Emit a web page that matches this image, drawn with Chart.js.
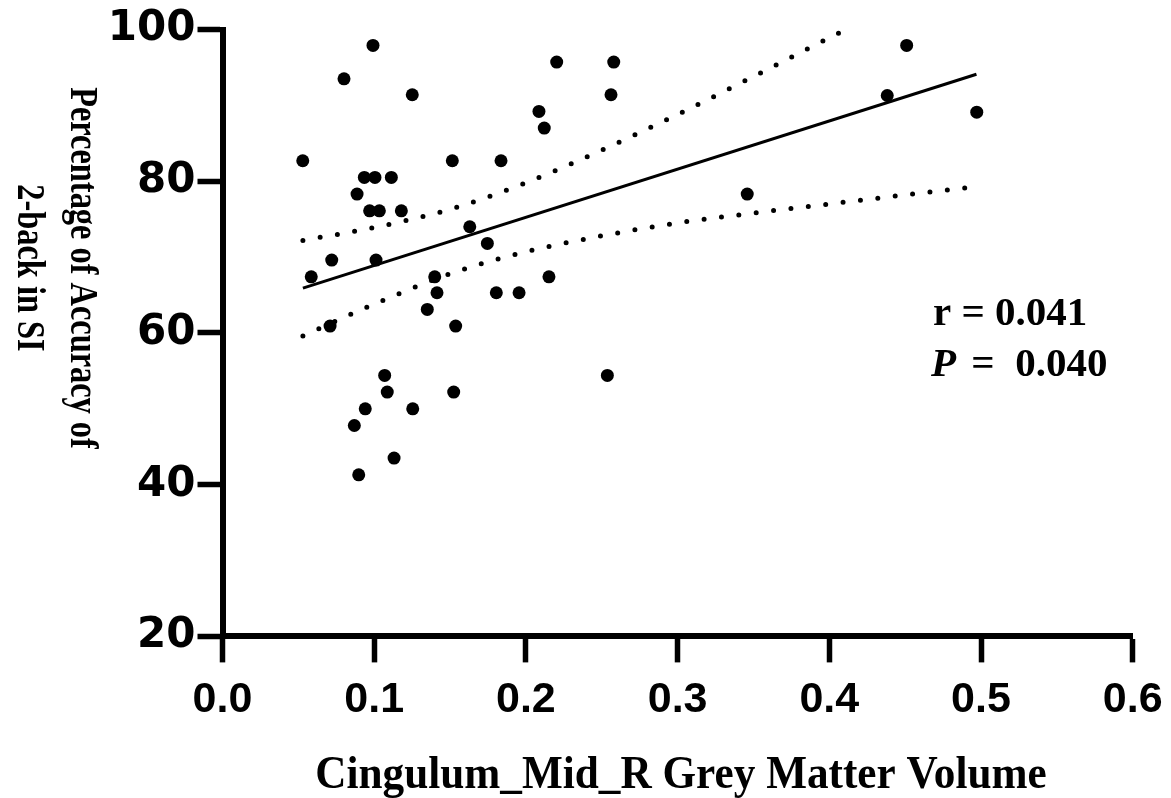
<!DOCTYPE html>
<html>
<head>
<meta charset="utf-8">
<script src="https://cdn.jsdelivr.net/npm/chart.js@4.4.1/dist/chart.umd.min.js"></script>
<style>
html,body{margin:0;padding:0;background:#fff;}
#wrap{width:1171px;height:798px;position:relative;}
</style>
</head>
<body>
<div id="wrap"><canvas id="c" width="1171" height="798"></canvas></div>
<script>
// ---- data ----
const volX = [0.0529,0.0585,0.0709,0.0720,0.0801,0.0869,0.0887,0.0898,0.0935,0.0941,0.0970,0.0992,0.1005,0.1012,0.1034,0.1069,0.1086,0.1113,0.1131,0.1179,0.1251,0.1254,0.1350,0.1399,0.1414,0.1515,0.1524,0.1537,0.1630,0.1746,0.1805,0.1836,0.1955,0.2086,0.2121,0.2152,0.2203,0.2537,0.2561,0.2579,0.3459,0.4382,0.4510,0.4972];
const accY = [82.7,67.4,60.9,69.6,93.5,47.8,78.3,41.3,80.5,50.0,76.1,97.9,80.5,69.6,76.1,54.4,52.2,80.5,43.5,76.1,91.4,50.0,63.1,67.4,65.3,82.7,52.2,60.9,74.0,71.8,65.3,82.7,65.3,89.2,87.0,67.4,95.7,54.4,91.4,95.7,78.3,91.3,97.9,89.1];
const fitX = [0.053, 0.497];
const fitY = [65.9, 94.1];
const bandX = [0.053,0.1,0.15,0.2,0.25,0.3,0.35,0.4,0.45,0.497];
const bandUpper = [72.2,73.9,76.3,79.8,84.1,88.8,93.8,98.9,104.0,109.0];
const bandLower = [59.6,63.8,67.8,70.7,72.8,74.5,75.8,77.0,78.2,79.3];
const xTicks = [0,0.1,0.2,0.3,0.4,0.5,0.6];
const yTicks = [20,40,60,80,100];
const xTitle = 'Cingulum_Mid_R Grey Matter Volume';
const yTitleLines = ['Percentage of Accuracy of', '2-back in SI'];
const statR = 'r = 0.041';
const statP = ['P', ' =  0.040'];

const pts = volX.map((x,i)=>({x:x, y:accY[i]}));
const fit = fitX.map((x,i)=>({x:x, y:fitY[i]}));
const up = bandX.map((x,i)=>({x:x, y:bandUpper[i]}));
const lo = bandX.map((x,i)=>({x:x, y:bandLower[i]}));

const textPlugin = {
  id:'texts',
  afterDraw(chart){
    const ctx = chart.ctx;
    ctx.save();
    ctx.fillStyle = '#000';
    ctx.textBaseline = 'alphabetic';
    // x title (slightly condensed serif)
    ctx.save();
    ctx.translate(681, 788);
    ctx.scale(0.92, 1);
    ctx.font = 'bold 47px "Liberation Serif"';
    ctx.textAlign = 'center';
    ctx.fillText(xTitle, 0, 0);
    ctx.restore();
    // y title rotated clockwise, condensed
    ctx.save();
    ctx.translate(71, 268);
    ctx.rotate(Math.PI/2);
    ctx.scale(0.83, 1);
    ctx.font = 'bold 39px "Liberation Serif"';
    ctx.textAlign = 'center';
    ctx.fillText(yTitleLines[0], 0, 0);
    ctx.fillText(yTitleLines[1], 0, 53);
    ctx.restore();
    // stats
    ctx.textAlign = 'left';
    ctx.font = 'bold 41px "Liberation Serif"';
    ctx.fillText(statR, 933, 325);
    ctx.font = 'italic bold 41px "Liberation Serif"';
    ctx.fillText(statP[0], 931, 376);
    const w = ctx.measureText(statP[0]).width;
    ctx.font = 'bold 41px "Liberation Serif"';
    ctx.fillText(statP[1], 931 + w + 5, 376);
    ctx.restore();
  }
};

new Chart(document.getElementById('c'), {
  type:'scatter',
  data:{
    datasets:[
      {label:'upper', type:'line', data:up, borderColor:'#000', borderWidth:5, borderDash:[0,17.5], borderCapStyle:'round', pointRadius:0, fill:false, cubicInterpolationMode:'monotone'},
      {label:'lower', type:'line', data:lo, borderColor:'#000', borderWidth:5, borderDash:[0,17.5], borderCapStyle:'round', pointRadius:0, fill:false, cubicInterpolationMode:'monotone'},
      {label:'fit', type:'line', data:fit, borderColor:'#000', borderWidth:3, pointRadius:0, fill:false},
      {label:'subjects', data:pts, backgroundColor:'#000', borderColor:'#000', pointRadius:6.5, pointBorderWidth:0}
    ]
  },
  options:{
    responsive:false,
    animation:false,
    events:[],
    layout:{padding:{left:0,right:38.3,top:29.5,bottom:0}},
    plugins:{legend:{display:false}, tooltip:{enabled:false}},
    scales:{
      x:{
        type:'linear', min:0, max:0.6,
        afterBuildTicks(s){ s.ticks = xTicks.map(v=>({value:v})); },
        afterFit(s){ s.height = 161.6; s.paddingLeft = 0; s.paddingRight = 0; },
        border:{display:true, color:'#000', width:6},
        grid:{display:true, drawOnChartArea:false, drawTicks:true, tickLength:26, tickWidth:5.5, tickColor:'#000'},
        ticks:{color:'#000', padding:12, font:{family:'"Liberation Sans"', weight:'bold', size:43}, callback:v=>v.toFixed(1), maxRotation:0, autoSkip:false}
      },
      y:{
        type:'linear', min:20, max:100,
        afterBuildTicks(s){ s.ticks = yTicks.map(v=>({value:v})); },
        afterFit(s){ s.width = 222.5; s.paddingTop = 0; s.paddingBottom = 0; },
        border:{display:true, color:'#000', width:6},
        grid:{display:true, drawOnChartArea:false, drawTicks:true, tickLength:25, tickWidth:5.5, tickColor:'#000'},
        ticks:{color:'#000', padding:2, font:{family:'"DejaVu Sans"', weight:'bold', size:42}, callback:v=>String(v)}
      }
    }
  },
  plugins:[textPlugin]
});
</script>
</body>
</html>
